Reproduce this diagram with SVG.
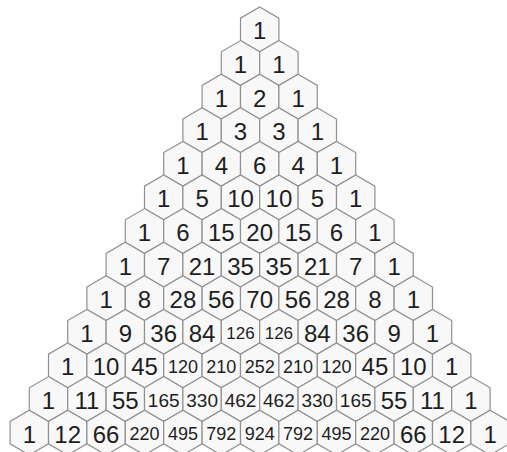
<svg xmlns="http://www.w3.org/2000/svg" xmlns:xlink="http://www.w3.org/1999/xlink" width="507" height="452" viewBox="0 0 507 452">
<defs>
<path id="h" d="M0,-22.4 L19.2,-11.2 L19.2,11.2 L0,22.4 L-19.2,11.2 L-19.2,-11.2Z"/>
<style>
use{fill:#f8f8f8;stroke:#909090;stroke-width:1.2}
text{font-family:"Liberation Sans",Arial,sans-serif;fill:#1e1e1e;text-anchor:middle}
.b{font-size:24px}
.s{font-size:18px}
</style>
</defs>
<rect width="507" height="452" fill="#fff"/>
<g id="connectors"/>
<g id="n0-0" transform="translate(259.7,29.4)"><use href="#h"/><text class="b" y="10">1</text></g>
<g id="n1-0" transform="translate(240.5,63)"><use href="#h"/><text class="b" y="10">1</text></g>
<g id="n1-1" transform="translate(278.9,63)"><use href="#h"/><text class="b" y="10">1</text></g>
<g id="n2-0" transform="translate(221.3,96.6)"><use href="#h"/><text class="b" y="10">1</text></g>
<g id="n2-1" transform="translate(259.7,96.6)"><use href="#h"/><text class="b" y="10">2</text></g>
<g id="n2-2" transform="translate(298.1,96.6)"><use href="#h"/><text class="b" y="10">1</text></g>
<g id="n3-0" transform="translate(202.1,130.2)"><use href="#h"/><text class="b" y="10">1</text></g>
<g id="n3-1" transform="translate(240.5,130.2)"><use href="#h"/><text class="b" y="10">3</text></g>
<g id="n3-2" transform="translate(278.9,130.2)"><use href="#h"/><text class="b" y="10">3</text></g>
<g id="n3-3" transform="translate(317.3,130.2)"><use href="#h"/><text class="b" y="10">1</text></g>
<g id="n4-0" transform="translate(182.9,163.8)"><use href="#h"/><text class="b" y="10">1</text></g>
<g id="n4-1" transform="translate(221.3,163.8)"><use href="#h"/><text class="b" y="10">4</text></g>
<g id="n4-2" transform="translate(259.7,163.8)"><use href="#h"/><text class="b" y="10">6</text></g>
<g id="n4-3" transform="translate(298.1,163.8)"><use href="#h"/><text class="b" y="10">4</text></g>
<g id="n4-4" transform="translate(336.5,163.8)"><use href="#h"/><text class="b" y="10">1</text></g>
<g id="n5-0" transform="translate(163.7,197.4)"><use href="#h"/><text class="b" y="10">1</text></g>
<g id="n5-1" transform="translate(202.1,197.4)"><use href="#h"/><text class="b" y="10">5</text></g>
<g id="n5-2" transform="translate(240.5,197.4)"><use href="#h"/><text class="b" y="10">10</text></g>
<g id="n5-3" transform="translate(278.9,197.4)"><use href="#h"/><text class="b" y="10">10</text></g>
<g id="n5-4" transform="translate(317.3,197.4)"><use href="#h"/><text class="b" y="10">5</text></g>
<g id="n5-5" transform="translate(355.7,197.4)"><use href="#h"/><text class="b" y="10">1</text></g>
<g id="n6-0" transform="translate(144.5,231)"><use href="#h"/><text class="b" y="10">1</text></g>
<g id="n6-1" transform="translate(182.9,231)"><use href="#h"/><text class="b" y="10">6</text></g>
<g id="n6-2" transform="translate(221.3,231)"><use href="#h"/><text class="b" y="10">15</text></g>
<g id="n6-3" transform="translate(259.7,231)"><use href="#h"/><text class="b" y="10">20</text></g>
<g id="n6-4" transform="translate(298.1,231)"><use href="#h"/><text class="b" y="10">15</text></g>
<g id="n6-5" transform="translate(336.5,231)"><use href="#h"/><text class="b" y="10">6</text></g>
<g id="n6-6" transform="translate(374.9,231)"><use href="#h"/><text class="b" y="10">1</text></g>
<g id="n7-0" transform="translate(125.3,264.6)"><use href="#h"/><text class="b" y="10">1</text></g>
<g id="n7-1" transform="translate(163.7,264.6)"><use href="#h"/><text class="b" y="10">7</text></g>
<g id="n7-2" transform="translate(202.1,264.6)"><use href="#h"/><text class="b" y="10">21</text></g>
<g id="n7-3" transform="translate(240.5,264.6)"><use href="#h"/><text class="b" y="10">35</text></g>
<g id="n7-4" transform="translate(278.9,264.6)"><use href="#h"/><text class="b" y="10">35</text></g>
<g id="n7-5" transform="translate(317.3,264.6)"><use href="#h"/><text class="b" y="10">21</text></g>
<g id="n7-6" transform="translate(355.7,264.6)"><use href="#h"/><text class="b" y="10">7</text></g>
<g id="n7-7" transform="translate(394.1,264.6)"><use href="#h"/><text class="b" y="10">1</text></g>
<g id="n8-0" transform="translate(106.1,298.2)"><use href="#h"/><text class="b" y="10">1</text></g>
<g id="n8-1" transform="translate(144.5,298.2)"><use href="#h"/><text class="b" y="10">8</text></g>
<g id="n8-2" transform="translate(182.9,298.2)"><use href="#h"/><text class="b" y="10">28</text></g>
<g id="n8-3" transform="translate(221.3,298.2)"><use href="#h"/><text class="b" y="10">56</text></g>
<g id="n8-4" transform="translate(259.7,298.2)"><use href="#h"/><text class="b" y="10">70</text></g>
<g id="n8-5" transform="translate(298.1,298.2)"><use href="#h"/><text class="b" y="10">56</text></g>
<g id="n8-6" transform="translate(336.5,298.2)"><use href="#h"/><text class="b" y="10">28</text></g>
<g id="n8-7" transform="translate(374.9,298.2)"><use href="#h"/><text class="b" y="10">8</text></g>
<g id="n8-8" transform="translate(413.3,298.2)"><use href="#h"/><text class="b" y="10">1</text></g>
<g id="n9-0" transform="translate(86.9,331.8)"><use href="#h"/><text class="b" y="10">1</text></g>
<g id="n9-1" transform="translate(125.3,331.8)"><use href="#h"/><text class="b" y="10">9</text></g>
<g id="n9-2" transform="translate(163.7,331.8)"><use href="#h"/><text class="b" y="10">36</text></g>
<g id="n9-3" transform="translate(202.1,331.8)"><use href="#h"/><text class="b" y="10">84</text></g>
<g id="n9-4" transform="translate(240.5,331.8)"><use href="#h"/><text class="s" y="7" style="font-size:17px">126</text></g>
<g id="n9-5" transform="translate(278.9,331.8)"><use href="#h"/><text class="s" y="7" style="font-size:17px">126</text></g>
<g id="n9-6" transform="translate(317.3,331.8)"><use href="#h"/><text class="b" y="10">84</text></g>
<g id="n9-7" transform="translate(355.7,331.8)"><use href="#h"/><text class="b" y="10">36</text></g>
<g id="n9-8" transform="translate(394.1,331.8)"><use href="#h"/><text class="b" y="10">9</text></g>
<g id="n9-9" transform="translate(432.5,331.8)"><use href="#h"/><text class="b" y="10">1</text></g>
<g id="n10-0" transform="translate(67.7,365.4)"><use href="#h"/><text class="b" y="10">1</text></g>
<g id="n10-1" transform="translate(106.1,365.4)"><use href="#h"/><text class="b" y="10">10</text></g>
<g id="n10-2" transform="translate(144.5,365.4)"><use href="#h"/><text class="b" y="10">45</text></g>
<g id="n10-3" transform="translate(182.9,365.4)"><use href="#h"/><text class="s" y="7.5">120</text></g>
<g id="n10-4" transform="translate(221.3,365.4)"><use href="#h"/><text class="s" y="7.5">210</text></g>
<g id="n10-5" transform="translate(259.7,365.4)"><use href="#h"/><text class="s" y="7.5">252</text></g>
<g id="n10-6" transform="translate(298.1,365.4)"><use href="#h"/><text class="s" y="7.5">210</text></g>
<g id="n10-7" transform="translate(336.5,365.4)"><use href="#h"/><text class="s" y="7.5">120</text></g>
<g id="n10-8" transform="translate(374.9,365.4)"><use href="#h"/><text class="b" y="10">45</text></g>
<g id="n10-9" transform="translate(413.3,365.4)"><use href="#h"/><text class="b" y="10">10</text></g>
<g id="n10-10" transform="translate(451.7,365.4)"><use href="#h"/><text class="b" y="10">1</text></g>
<g id="n11-0" transform="translate(48.5,399)"><use href="#h"/><text class="b" y="10">1</text></g>
<g id="n11-1" transform="translate(86.9,399)"><use href="#h"/><text class="b" y="10">11</text></g>
<g id="n11-2" transform="translate(125.3,399)"><use href="#h"/><text class="b" y="10">55</text></g>
<g id="n11-3" transform="translate(163.7,399)"><use href="#h"/><text class="s" y="7.8" style="font-size:19px">165</text></g>
<g id="n11-4" transform="translate(202.1,399)"><use href="#h"/><text class="s" y="7.8" style="font-size:19px">330</text></g>
<g id="n11-5" transform="translate(240.5,399)"><use href="#h"/><text class="s" y="7.8" style="font-size:19px">462</text></g>
<g id="n11-6" transform="translate(278.9,399)"><use href="#h"/><text class="s" y="7.8" style="font-size:19px">462</text></g>
<g id="n11-7" transform="translate(317.3,399)"><use href="#h"/><text class="s" y="7.8" style="font-size:19px">330</text></g>
<g id="n11-8" transform="translate(355.7,399)"><use href="#h"/><text class="s" y="7.8" style="font-size:19px">165</text></g>
<g id="n11-9" transform="translate(394.1,399)"><use href="#h"/><text class="b" y="10">55</text></g>
<g id="n11-10" transform="translate(432.5,399)"><use href="#h"/><text class="b" y="10">11</text></g>
<g id="n11-11" transform="translate(470.9,399)"><use href="#h"/><text class="b" y="10">1</text></g>
<g id="n12-0" transform="translate(29.3,432.6)"><use href="#h"/><text class="b" y="10">1</text></g>
<g id="n12-1" transform="translate(67.7,432.6)"><use href="#h"/><text class="b" y="10">12</text></g>
<g id="n12-2" transform="translate(106.1,432.6)"><use href="#h"/><text class="b" y="10">66</text></g>
<g id="n12-3" transform="translate(144.5,432.6)"><use href="#h"/><text class="s" y="7.5">220</text></g>
<g id="n12-4" transform="translate(182.9,432.6)"><use href="#h"/><text class="s" y="7.5">495</text></g>
<g id="n12-5" transform="translate(221.3,432.6)"><use href="#h"/><text class="s" y="7.5">792</text></g>
<g id="n12-6" transform="translate(259.7,432.6)"><use href="#h"/><text class="s" y="7.5">924</text></g>
<g id="n12-7" transform="translate(298.1,432.6)"><use href="#h"/><text class="s" y="7.5">792</text></g>
<g id="n12-8" transform="translate(336.5,432.6)"><use href="#h"/><text class="s" y="7.5">495</text></g>
<g id="n12-9" transform="translate(374.9,432.6)"><use href="#h"/><text class="s" y="7.5">220</text></g>
<g id="n12-10" transform="translate(413.3,432.6)"><use href="#h"/><text class="b" y="10">66</text></g>
<g id="n12-11" transform="translate(451.7,432.6)"><use href="#h"/><text class="b" y="10">12</text></g>
<g id="n12-12" transform="translate(490.1,432.6)"><use href="#h"/><text class="b" y="10">1</text></g>
</svg>
